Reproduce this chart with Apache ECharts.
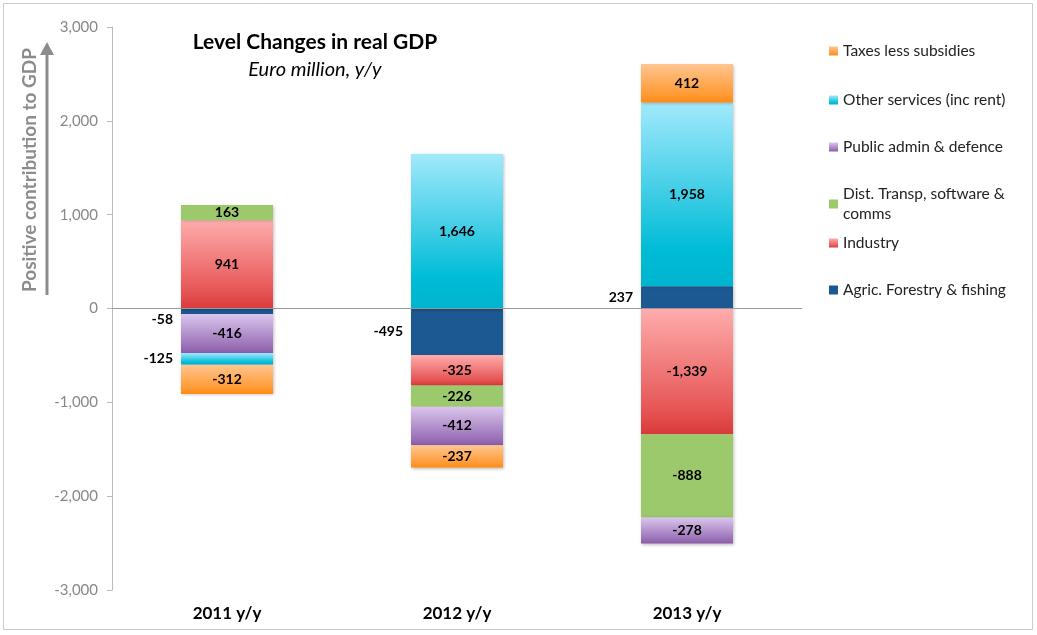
<!DOCTYPE html>
<html>
<head>
<meta charset="utf-8">
<script src="https://cdn.jsdelivr.net/npm/echarts@6/dist/echarts.min.js"></script>
<style>
html,body{margin:0;padding:0;background:#fff;}
#chart{width:1037px;height:635px;}
</style>
</head>
<body>
<div id="chart"></div>
<script>
const categories = ['2011 y/y', '2012 y/y', '2013 y/y'];
const agric = [-58, -495, 237];
const industry = [941, -325, -1339];
const dist = [163, -226, -888];
const publicAdmin = [-416, -412, -278];
const otherServices = [-125, 1646, 1958];
const taxes = [-312, -237, 412];
const yTicks = [-3000, -2000, -1000, 0, 1000, 2000, 3000];

const FONT = 'Lato';
function grad(top, mid, bottom) {
  return new echarts.graphic.LinearGradient(0, 0, 0, 1, [
    {offset: 0, color: top}, {offset: 0.8, color: mid}, {offset: 1, color: bottom}
  ]);
}
const fmt = v => Number(v).toLocaleString('en-US');

function mkData(vals, alwaysLeft) {
  return vals.map(v => {
    if (alwaysLeft || Math.abs(v) < 150) {
      const lbl = {position: 'left', distance: 8};
      if (alwaysLeft && v < 0 && Math.abs(v) < 150) lbl.offset = [0, 8];
      return {value: v, label: lbl};
    }
    return v;
  });
}

const seriesDefs = [
  {name: 'Agric. Forestry & fishing', data: agric, color: '#1c5891', left: true},
  {name: 'Industry', data: industry, color: grad('#ffacac', '#e65656', '#da3a3a')},
  {name: 'Dist. Transp, software & comms', data: dist, color: '#9cc96b'},
  {name: 'Public admin & defence', data: publicAdmin, color: grad('#dac6ec', '#9c73b9', '#8b5ca8')},
  {name: 'Other services (inc rent)', data: otherServices, color: grad('#a2e9fc', '#00bcd7', '#00b4cf')},
  {name: 'Taxes less subsidies', data: taxes, color: grad('#ffc590', '#ff9a33', '#ff8a12')}
];

const series = seriesDefs.map((s, i) => ({
  name: s.name,
  type: 'bar',
  stack: 'gdp',
  barWidth: '40%',
  data: mkData(s.data, s.left),
  itemStyle: {
    color: s.color,
    shadowBlur: 3, shadowOffsetX: 1, shadowOffsetY: 1, shadowColor: 'rgba(0,0,0,0.25)'
  },
  label: {
    show: true, position: 'inside', formatter: p => fmt(p.value),
    color: '#000', fontWeight: 'bold', fontSize: 14, fontFamily: FONT
  },
  markLine: i === 0 ? {
    silent: true, symbol: 'none', label: {show: false},
    lineStyle: {color: '#999', width: 1, type: 'solid'},
    data: [{yAxis: 0}]
  } : undefined
}));

const legendTops = {
  'Taxes less subsidies': 36,
  'Other services (inc rent)': 85,
  'Public admin & defence': 132,
  'Dist. Transp, software & comms': 179,
  'Industry': 228,
  'Agric. Forestry & fishing': 275
};
const legends = Object.keys(legendTops).map(n => ({
  data: [n], left: 824, top: legendTops[n], orient: 'vertical',
  itemWidth: 9, itemHeight: 9, icon: 'rect', itemGap: 4,
  formatter: name => name === 'Dist. Transp, software & comms' ? 'Dist. Transp, software &\ncomms' : name,
  textStyle: {fontFamily: FONT, fontSize: 15.5, color: '#222', lineHeight: 20}
}));

const chart = echarts.init(document.getElementById('chart'));
chart.setOption({
  animation: false,
  backgroundColor: '#fff',
  title: [
    {text: 'Level Changes in real GDP', left: 310, top: 27, textAlign: 'center',
     textStyle: {fontFamily: FONT, fontWeight: 'bold', fontSize: 21, color: '#000'}},
    {text: 'Euro million, y/y', left: 310, top: 55, textAlign: 'center',
     textStyle: {fontFamily: FONT, fontStyle: 'italic', fontWeight: 'normal', fontSize: 20, color: '#000'}}
  ],
  legend: legends,
  grid: {left: 112, right: 235, top: 27, bottom: 45, containLabel: false},
  xAxis: {
    type: 'category', data: categories,
    axisLine: {show: false, onZero: false}, axisTick: {show: false},
    axisLabel: {color: '#000', fontWeight: 'bold', fontSize: 17, fontFamily: FONT, margin: 15}
  },
  yAxis: {
    type: 'value', min: -3000, max: 3000, interval: 1000,
    splitLine: {show: false},
    axisLine: {show: true, lineStyle: {color: '#bbb'}},
    axisTick: {show: true, length: 5, lineStyle: {color: '#bbb'}},
    axisLabel: {color: '#888', fontSize: 15, fontFamily: FONT, margin: 14,
      formatter: v => yTicks.includes(v) ? fmt(v) : ''}
  },
  graphic: [
    {type: 'rect', shape: {x: 3.5, y: 3.5, width: 1029, height: 626}, style: {fill: 'none', stroke: '#ccc', lineWidth: 1}, silent: true, z: -1},
    {type: 'line', shape: {x1: 47, y1: 295, x2: 47, y2: 52}, style: {stroke: '#8c8c8c', lineWidth: 3}},
    {type: 'polygon', shape: {points: [[47, 42], [40, 55], [54, 55]]}, style: {fill: '#8c8c8c'}},
    {type: 'text', x: 30, y: 170, rotation: Math.PI / 2,
     style: {text: 'Positive contribution to GDP', fill: '#8c8c8c', font: 'bold 19px Lato', align: 'center', verticalAlign: 'middle'}}
  ],
  series: series
});
</script>
</body>
</html>
